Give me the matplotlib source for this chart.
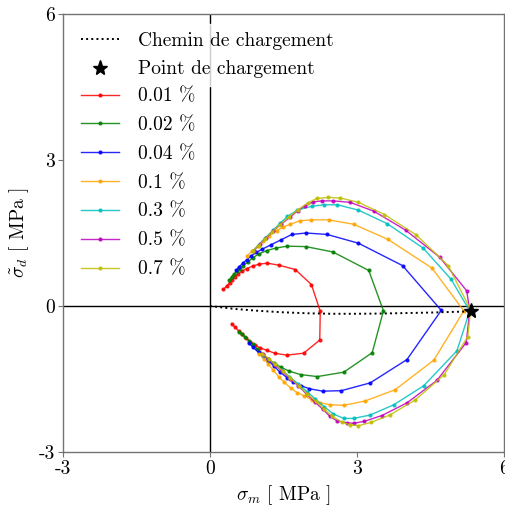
import matplotlib
matplotlib.use("Agg")
import matplotlib.pyplot as plt

plt.rcParams['font.family'] = 'serif'
plt.rcParams['font.serif'] = ['cmr10']
plt.rcParams['mathtext.fontset'] = 'cm'
plt.rcParams['axes.unicode_minus'] = False
plt.rcParams['axes.formatter.use_mathtext'] = True

# Loading path
path_x = [0.0, 0.25, 0.5, 1.0, 1.5, 2.0, 2.5, 3.0, 3.5, 4.0, 4.5, 5.0, 5.32]
path_y = [0.0, -0.03, -0.06, -0.10, -0.13, -0.15, -0.16, -0.16, -0.155, -0.145, -0.135, -0.12, -0.11]
load_point = (5.32, -0.11)

labels = ['0.01 %', '0.02 %', '0.04 %', '0.1 %', '0.3 %', '0.5 %', '0.7 %']
colors = ['r', 'g', 'b', 'orange', 'c', 'm', 'y']

x_001 = [0.27, 0.34, 0.40, 0.45, 0.51, 0.57, 0.65, 0.75, 0.87, 1.00, 1.17, 1.40, 1.74, 2.07, 2.25,
         2.24, 1.91, 1.57, 1.32, 1.16, 1.02, 0.92, 0.82, 0.74, 0.65, 0.59, 0.52, 0.44]
y_001 = [0.34, 0.41, 0.48, 0.54, 0.60, 0.66, 0.71, 0.77, 0.82, 0.86, 0.88, 0.84, 0.75, 0.44, -0.11,
         -0.70, -0.97, -1.01, -0.97, -0.91, -0.86, -0.80, -0.73, -0.66, -0.58, -0.52, -0.44, -0.36]

x_002 = [0.39, 0.44, 0.49, 0.55, 0.61, 0.68, 0.77, 0.87, 1.00, 1.16, 1.34, 1.58, 1.96, 2.51, 3.24, 3.54,
         3.31, 2.73, 2.19, 1.85, 1.62, 1.45, 1.31, 1.19, 1.07, 0.96, 0.87, 0.79, 0.72, 0.66, 0.60]
y_002 = [0.53, 0.60, 0.66, 0.71, 0.77, 0.83, 0.90, 0.99, 1.07, 1.14, 1.19, 1.23, 1.22, 1.11, 0.73, -0.10,
         -0.96, -1.36, -1.45, -1.41, -1.34, -1.26, -1.18, -1.09, -0.99, -0.88, -0.79, -0.71, -0.64, -0.58, -0.53]

x_004 = [0.53, 0.60, 0.67, 0.75, 0.83, 0.94, 1.07, 1.25, 1.45, 1.67, 1.96, 2.39, 3.03, 3.93, 4.72,
         4.02, 3.27, 2.68, 2.30, 2.03, 1.86, 1.70, 1.57, 1.43, 1.31, 1.19, 1.09, 0.99, 0.88, 0.80]
y_004 = [0.73, 0.81, 0.88, 0.95, 1.02, 1.10, 1.17, 1.26, 1.36, 1.47, 1.50, 1.47, 1.29, 0.83, -0.09,
         -1.10, -1.58, -1.74, -1.75, -1.70, -1.64, -1.56, -1.47, -1.36, -1.24, -1.12, -1.03, -0.95, -0.85, -0.77]

x_01 = [0.76, 0.86, 0.97, 1.08, 1.20, 1.36, 1.49, 1.64, 1.83, 2.07, 2.42, 2.93, 3.63, 4.53, 5.18,
        4.57, 3.78, 3.17, 2.74, 2.45, 2.25, 2.08, 1.91, 1.78, 1.65, 1.52, 1.40, 1.29, 1.19, 1.10, 1.01]
y_01 = [1.03, 1.13, 1.23, 1.33, 1.44, 1.55, 1.62, 1.68, 1.75, 1.77, 1.77, 1.68, 1.37, 0.78, -0.10,
        -1.11, -1.72, -1.95, -2.04, -2.03, -1.99, -1.93, -1.84, -1.78, -1.69, -1.57, -1.45, -1.32, -1.19, -1.08, -0.99]

x_03 = [0.88, 0.99, 1.12, 1.29, 1.43, 1.58, 1.78, 2.08, 2.32, 2.60, 3.03, 3.62, 4.35, 4.92, 5.30,
        5.04, 4.36, 3.75, 3.27, 2.93, 2.73, 2.52, 2.33, 2.15, 1.98, 1.80, 1.62, 1.46, 1.32, 1.19, 1.08]
y_03 = [1.13, 1.25, 1.39, 1.56, 1.70, 1.84, 1.97, 2.05, 2.08, 2.08, 1.97, 1.69, 1.19, 0.55, -0.10,
        -0.92, -1.64, -2.03, -2.24, -2.31, -2.31, -2.22, -2.07, -1.91, -1.76, -1.60, -1.45, -1.31, -1.19, -1.09, -1.01]

x_05 = [0.90, 1.02, 1.15, 1.29, 1.45, 1.64, 1.79, 1.94, 2.11, 2.28, 2.52, 2.86, 3.34, 3.99, 4.69, 5.24, 5.30,
        5.23, 4.63, 4.02, 3.51, 3.15, 2.93, 2.80, 2.59, 2.45, 2.30, 2.14, 1.97, 1.80, 1.63, 1.47, 1.33, 1.19, 1.08]
y_05 = [1.14, 1.27, 1.40, 1.54, 1.68, 1.83, 1.96, 2.06, 2.14, 2.16, 2.16, 2.13, 1.95, 1.56, 1.00, 0.31, -0.10,
        -0.75, -1.53, -1.99, -2.25, -2.37, -2.41, -2.40, -2.36, -2.27, -2.12, -1.97, -1.81, -1.64, -1.49, -1.34, -1.21, -1.09, -0.99]

x_07 = [0.87, 0.99, 1.12, 1.27, 1.43, 1.61, 1.80, 2.00, 2.18, 2.41, 2.66, 3.03, 3.56, 4.21, 4.86, 5.32,
        5.26, 4.78, 4.19, 3.67, 3.29, 3.03, 2.86, 2.69, 2.50, 2.33, 2.16, 1.98, 1.81, 1.64, 1.48, 1.33, 1.20, 1.07]
y_07 = [1.12, 1.24, 1.37, 1.52, 1.67, 1.83, 1.98, 2.12, 2.21, 2.23, 2.22, 2.13, 1.88, 1.46, 0.83, -0.08,
        -0.63, -1.41, -1.93, -2.24, -2.39, -2.46, -2.44, -2.39, -2.27, -2.12, -1.96, -1.80, -1.64, -1.48, -1.33, -1.20, -1.08, -0.98]

series_x = [x_001, x_002, x_004, x_01, x_03, x_05, x_07]
series_y = [y_001, y_002, y_004, y_01, y_03, y_05, y_07]

fig = plt.figure(figsize=(5.06, 5.07), dpi=100)
ax = fig.add_axes([63 / 506, 1 - 452 / 507, (504 - 63) / 506, (452 - 14) / 507])

ax.axhline(0, color='k', lw=1.0, zorder=1)
ax.axvline(0, color='k', lw=1.0, zorder=1)

h_path, = ax.plot(path_x, path_y, ':', color='k', lw=1.4, label='Chemin de chargement', zorder=3)
h_star, = ax.plot([load_point[0]], [load_point[1]], '*', color='k', ms=11,
                  ls='none', label='Point de chargement', zorder=5)

handles = []
for xs, ys, c, lab in zip(series_x, series_y, colors, labels):
    h, = ax.plot(xs, ys, '-', color=c, marker='.', ms=4.0, lw=1.0, alpha=0.85, label=lab, zorder=2)
    handles.append(h)

ax.set_xlim(-3, 6)
ax.set_ylim(-3, 6)
ax.set_xticks([-3, 0, 3, 6])
ax.set_xticklabels(['-3', '0', '3', '6'])
ax.set_yticks([-3, 0, 3, 6])
ax.set_yticklabels(['-3', '0', '3', '6'])
ax.tick_params(labelsize=14, length=3.5, color='0.45', direction='out', pad=2)
for sp in ax.spines.values():
    sp.set_color('0.45')
    sp.set_linewidth(1.0)

ax.set_xlabel(r'$\sigma_m$ [ MPa ]', fontsize=14, labelpad=4)
ax.set_ylabel(r'$\tilde{\sigma}_d$ [ MPa ]', fontsize=14, labelpad=6)

leg1 = ax.legend(handles=[h_path, h_star], loc='upper left', fontsize=14,
                 frameon=True, framealpha=0.8, edgecolor='white', fancybox=True,
                 labelspacing=0.56, handletextpad=0.95)
ax.add_artist(leg1)
leg2 = ax.legend(handles=handles, loc='upper left', bbox_to_anchor=(0.0, 0.872),
                 fontsize=14, frameon=False, labelspacing=0.56, handletextpad=0.95)

fig.savefig('out.png', dpi=100)
